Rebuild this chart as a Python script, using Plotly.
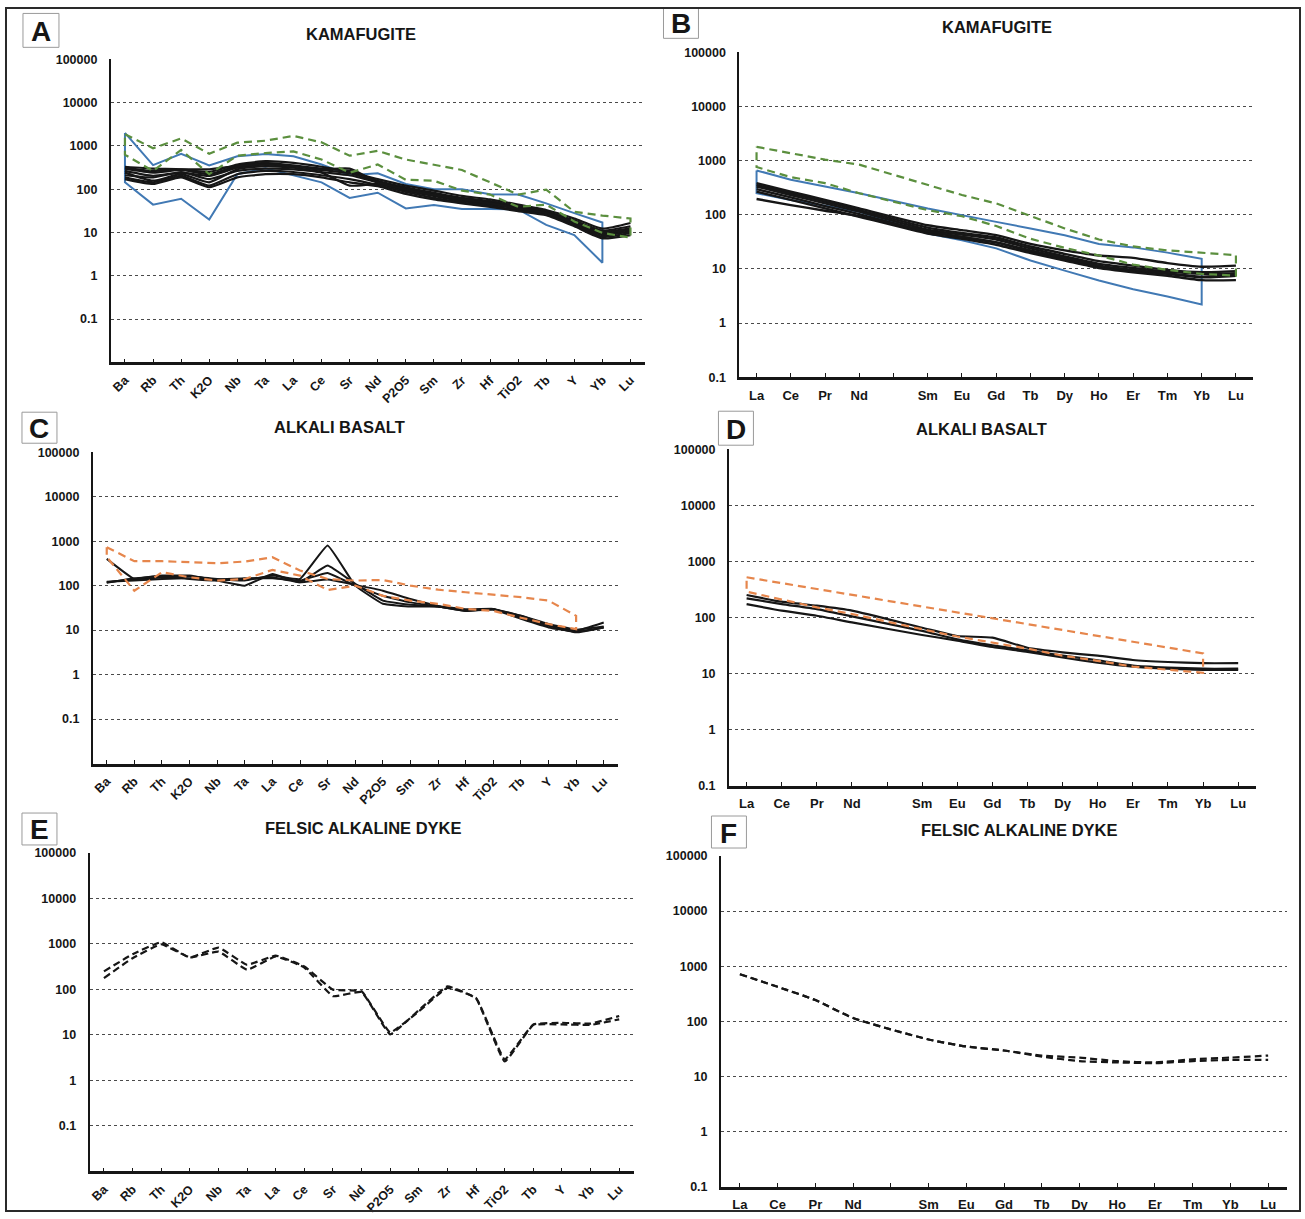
import plotly.graph_objects as go

FIG_W, FIG_H = 1305, 1219

# ---------------------------------------------------------------------------
# Element axes
# ---------------------------------------------------------------------------
SPIDER_AXIS = ["Ba", "Rb", "Th", "K2O", "Nb", "Ta", "La", "Ce", "Sr", "Nd",
               "P2O5", "Sm", "Zr", "Hf", "TiO2", "Tb", "Y", "Yb", "Lu"]
# REE axis: the Pm slot keeps its place but carries no label and no data
REE_AXIS = ["La", "Ce", "Pr", "Nd", "", "Sm", "Eu", "Gd", "Tb", "Dy",
            "Ho", "Er", "Tm", "Yb", "Lu"]
REE = [e for e in REE_AXIS if e]

Y_TICKS = [0.1, 1, 10, 100, 1000, 10000, 100000]
Y_TICK_TEXT = ["0.1", "1", "10", "100", "1000", "10000", "100000"]

# ---------------------------------------------------------------------------
# A - kamafugite, multi-element pattern (Ba ... Lu)
# ---------------------------------------------------------------------------
KAM_SPIDER_SAMPLES = [
    [330, 298, 288, 250, 373, 444, 407, 330, 250, 171, 121, 93, 70, 58, 44, 33, 21, 12.3, 16.5],
    [298, 242, 278, 222, 342, 407, 354, 298, 264, 157, 111, 83, 63, 53, 41, 31, 19, 11.1, 13.9],
    [264, 203, 242, 203, 313, 373, 342, 278, 234, 149, 105, 78, 61, 49, 39, 30, 17.4, 10.4, 12.7],
    [242, 157, 222, 144, 288, 342, 313, 250, 210, 144, 98, 72, 55, 47, 37, 29, 16.5, 9.3, 11.7],
    [210, 187, 250, 171, 264, 298, 288, 242, 121, 132, 93, 70, 53, 44, 36, 28, 15.7, 8.7, 10.7],
    [187, 144, 203, 121, 222, 264, 250, 210, 171, 125, 86, 63, 49, 41, 33, 27, 14.6, 7.9, 9.8],
    [171, 132, 187, 111, 187, 222, 222, 187, 144, 117, 78, 58, 47, 39, 31, 25, 13.9, 7.3, 8.7],
    [313, 264, 288, 288, 342, 373, 342, 288, 298, 144, 98, 74, 58, 47, 36, 28, 16.5, 9.8, 11.7],
]
# blue field, Ba ... Yb
KAM_SPIDER_BLUE_HIGH = [2000, 360, 660, 355, 575, 650, 575, 373, 210, 233, 132, 100, 100, 76, 75, 47, 28, 17]
KAM_SPIDER_BLUE_LOW = [144, 44, 60, 20, 222, 303, 210, 144, 63, 83, 36, 43, 35, 35, 34, 15, 8.7, 2.0]
# green field, Ba ... Lu
KAM_SPIDER_GREEN_HIGH = [1860, 885, 1490, 660, 1190, 1320, 1710, 1210, 595, 770, 484, 373, 278, 144, 75, 98, 30, 24.6, 21]
KAM_SPIDER_GREEN_LOW = [627, 264, 810, 222, 595, 683, 745, 484, 241, 373, 165, 157, 93, 75, 39, 44, 18, 9.8, 7.6]

# ---------------------------------------------------------------------------
# B - kamafugite, REE pattern (La ... Lu)
# ---------------------------------------------------------------------------
KAM_REE_SAMPLES = [
    [384, 268, 188, 131, 64, 52, 42, 29, 22, 17.7, 16, 12.8, 11, 11.5],
    [357, 250, 175, 122, 58, 46, 38, 26, 19, 13.9, 11.5, 9.6, 8.7, 9.1],
    [333, 232, 163, 114, 53, 43, 35, 24, 17, 12.4, 10.4, 8.9, 8.1, 8.3],
    [297, 210, 145, 103, 48, 39, 31, 21, 15.3, 11, 9.3, 8.1, 7.0, 7.5],
    [268, 188, 131, 92, 45, 36, 28, 19.6, 14.3, 10.4, 8.7, 7.5, 6.2, 6.2],
    [196, 151, 119, 94, 50, 39, 31, 22, 16, 11.5, 9.6, 8.3, 7.2, 7.8],
]
# blue field, La ... Yb
KAM_REE_BLUE_HIGH = [660, 443, 333, 250, 131, 100, 74, 56, 42, 29, 25, 20, 15.4]
KAM_REE_BLUE_LOW = [250, 188, 147, 114, 45, 34, 24, 14.3, 9.3, 6.1, 4.2, 3.1, 2.2]
# green field, La ... Lu
KAM_REE_GREEN_HIGH = [1800, 1390, 1045, 842, 357, 232, 162, 95, 56, 35, 26, 22, 20, 18]
KAM_REE_GREEN_LOW = [762, 496, 384, 250, 122, 94, 62, 36, 24.5, 17.7, 12, 9.6, 8.1, 7.5]

# ---------------------------------------------------------------------------
# C - alkali basalt, multi-element pattern
# ---------------------------------------------------------------------------
AB_SPIDER_SAMPLES = [
    [400, 141, 154, 163, 141, 130, 168, 141, 798, 100, 39, 34, 34, 27, 30, 21, 13, 9.7, 14.8],
    [119, 141, 168, 168, 130, 100, 183, 119, 283, 109, 46, 37, 34, 27, 29, 18, 11.5, 9.2, 11.5],
    [123, 130, 141, 146, 137, 146, 146, 130, 193, 100, 59, 42, 34, 29, 30, 19, 12.5, 8.9, 11.5],
    [116, 146, 163, 141, 130, 141, 154, 119, 137, 104, 77, 50, 35, 29, 29, 21, 13.7, 10.2, 12],
]
# orange field, Ba ... Yb
AB_SPIDER_ORANGE_HIGH = [733, 354, 354, 336, 319, 348, 435, 218, 141, 130, 134, 100, 81, 71, 62, 55, 46, 21]
AB_SPIDER_ORANGE_LOW = [440, 77, 200, 154, 130, 141, 226, 168, 80, 100, 59, 46, 39, 30, 27, 19, 13.7, 10.5]

# ---------------------------------------------------------------------------
# D - alkali basalt, REE pattern
# ---------------------------------------------------------------------------
AB_REE_SAMPLES = [
    [253, 192, 163, 133, 66, 47, 44, 29, 24, 21, 17.6, 16.2, 15.4, 15.4],
    [220, 174, 142, 105, 58, 41, 32, 26, 21, 17.4, 14, 12.9, 12.3, 12.3],
    [174, 133, 108, 82, 49, 39, 30, 24.5, 19.5, 15.8, 13.4, 12.3, 11.7, 11.7],
]
# orange field, La ... Yb
AB_REE_ORANGE_HIGH = [523, 412, 324, 254, 157, 124, 97, 77, 60, 47, 37, 29, 23]
AB_REE_ORANGE_LOW = [290, 209, 152, 116, 62, 46, 36, 28, 21, 17, 13.4, 11.7, 10.4]

# ---------------------------------------------------------------------------
# E / F - felsic alkaline dyke
# ---------------------------------------------------------------------------
DYKE_SPIDER_SAMPLES = [
    [249, 595, 1090, 503, 832, 348, 556, 320, 99, 91, 11.3, 33, 108, 65, 2.9, 17, 18.5, 17.7, 26],
    [178, 486, 985, 503, 680, 271, 529, 304, 71, 88, 10.3, 35, 117, 63, 2.6, 16.6, 17, 16.6, 22],
]
DYKE_REE_SAMPLES = [
    [717, 423, 243, 115, 47, 35, 29.6, 23, 19, 18, 17.5, 19, 20, 20],
    [717, 423, 243, 115, 47, 35, 29.6, 24, 22, 19, 18, 20.5, 22, 24],
]

PANEL_TITLES = ["KAMAFUGITE", "KAMAFUGITE", "ALKALI BASALT", "ALKALI BASALT",
                "FELSIC ALKALINE DYKE", "FELSIC ALKALINE DYKE"]
PANEL_LETTERS = ["A", "B", "C", "D", "E", "F"]

# ---------------------------------------------------------------------------
# Styling / layout
# ---------------------------------------------------------------------------
FONT = "Liberation Sans, Arial, Helvetica, sans-serif"
BLACK = "#161616"
BLUE = "#4179b4"
GREEN = "#5b8f3e"
ORANGE = "#e6864c"

# plot boxes in figure pixels: (left, right), (top, bottom)
PANEL_BOXES = {
    1: dict(x=(110, 644), y=(53.0, 359.4), ylog=(-2, 5), cats=SPIDER_AXIS, angle=-45),
    2: dict(x=(739, 1253), y=(45.9, 374.5), ylog=(-1, 5), cats=REE_AXIS, angle=0),
    3: dict(x=(92, 617), y=(450.4, 765.3), ylog=(-2, 5), cats=SPIDER_AXIS, angle=-45),
    4: dict(x=(728.6, 1255.7), y=(447.3, 788.1), ylog=(-1, 5), cats=REE_AXIS, angle=0),
    5: dict(x=(88.7, 633), y=(855.8, 1177.9), ylog=(-2, 5), cats=SPIDER_AXIS, angle=-45),
    6: dict(x=(720.6, 1287), y=(858.8, 1193.5), ylog=(-1, 5), cats=REE_AXIS, angle=0),
}
TITLE_POS = [(360, 27.7), (997, 20.6), (339, 425.1), (981, 427.1), (362, 830.5), (1019, 832.6)]
LETTER_BOX = [(22, 6.5, 58, 40.8), (663, 0.6, 698, 31.7), (21, 409.9, 56, 441.3),
              (718, 408.9, 753, 443.3), (21, 815.4, 56, 847.7), (711, 818.4, 746, 850.8)]
FRAME = (5, 1, 1300, 1218)


def fx(px):
    return px / FIG_W


def fy(py):
    return 1 - py / FIG_H


def axis_ids(n):
    return ("x", "y") if n == 1 else (f"x{n}", f"y{n}")


def slots(cats, elements):
    return [cats.index(e) for e in elements]


def sample_line(n, cats, elements, values, color, width, dash="solid", smooth=0.0):
    xa, ya = axis_ids(n)
    return go.Scatter(
        x=slots(cats, elements), y=values, mode="lines", xaxis=xa, yaxis=ya,
        line=dict(color=color, width=width, dash=dash,
                  shape="spline" if smooth else "linear", smoothing=smooth or None),
        showlegend=False, hoverinfo="skip")


def envelope(n, cats, elements, high, low, color, width, dash="solid"):
    xa, ya = axis_ids(n)
    x = slots(cats, elements)
    xs = x + x[::-1] + [x[0]]
    ys = list(high) + list(low)[::-1] + [high[0]]
    return go.Scatter(x=xs, y=ys, mode="lines", xaxis=xa, yaxis=ya,
                      line=dict(color=color, width=width, dash=dash),
                      showlegend=False, hoverinfo="skip")


fig = go.Figure()

SP18 = SPIDER_AXIS[:18]
REE13 = REE[:13]
DASH = "8px,5px"

# A
fig.add_trace(envelope(1, SPIDER_AXIS, SP18, KAM_SPIDER_BLUE_HIGH, KAM_SPIDER_BLUE_LOW, BLUE, 2))
for s in KAM_SPIDER_SAMPLES:
    fig.add_trace(sample_line(1, SPIDER_AXIS, SPIDER_AXIS, s, BLACK, 2.2, smooth=0.5))
fig.add_trace(envelope(1, SPIDER_AXIS, SPIDER_AXIS, KAM_SPIDER_GREEN_HIGH, KAM_SPIDER_GREEN_LOW, GREEN, 2.2, DASH))

# B
fig.add_trace(envelope(2, REE_AXIS, REE13, KAM_REE_BLUE_HIGH, KAM_REE_BLUE_LOW, BLUE, 2))
for s in KAM_REE_SAMPLES:
    fig.add_trace(sample_line(2, REE_AXIS, REE, s, BLACK, 2.4, smooth=0.5))
fig.add_trace(envelope(2, REE_AXIS, REE, KAM_REE_GREEN_HIGH, KAM_REE_GREEN_LOW, GREEN, 2.2, DASH))

# C
for s in AB_SPIDER_SAMPLES:
    fig.add_trace(sample_line(3, SPIDER_AXIS, SPIDER_AXIS, s, BLACK, 2.0, smooth=0.3))
fig.add_trace(envelope(3, SPIDER_AXIS, SP18, AB_SPIDER_ORANGE_HIGH, AB_SPIDER_ORANGE_LOW, ORANGE, 2.2, DASH))

# D
for s in AB_REE_SAMPLES:
    fig.add_trace(sample_line(4, REE_AXIS, REE, s, BLACK, 2.2, smooth=0.5))
fig.add_trace(envelope(4, REE_AXIS, REE13, AB_REE_ORANGE_HIGH, AB_REE_ORANGE_LOW, ORANGE, 2.2, DASH))

# E
for s in DYKE_SPIDER_SAMPLES:
    fig.add_trace(sample_line(5, SPIDER_AXIS, SPIDER_AXIS, s, BLACK, 2.2, "7px,4px", smooth=0.3))

# F
for s in DYKE_REE_SAMPLES:
    fig.add_trace(sample_line(6, REE_AXIS, REE, s, BLACK, 2.2, "7px,4px", smooth=0.6))

# axes
layout_axes = {}
for n, box in PANEL_BOXES.items():
    xk = "xaxis" if n == 1 else f"xaxis{n}"
    yk = "yaxis" if n == 1 else f"yaxis{n}"
    xa, ya = axis_ids(n)
    cats = box["cats"]
    layout_axes[xk] = dict(
        domain=[fx(box["x"][0]), fx(box["x"][1])], anchor=ya,
        range=[-0.5, len(cats) - 0.5], tickmode="array",
        tickvals=list(range(len(cats))), ticktext=cats,
        tickangle=box["angle"], ticks="inside", ticklen=4, tickwidth=1.2,
        tickcolor=BLACK, showline=True, linecolor=BLACK, linewidth=2.5,
        showgrid=False, zeroline=False, ticklabelstandoff=3 if box["angle"] else 4,
        tickfont=dict(family=FONT, size=13 if box["angle"] == 0 else 12.5,
                      color=BLACK, weight="bold"),
    )
    layout_axes[yk] = dict(
        domain=[fy(box["y"][1]), fy(box["y"][0])], anchor=xa,
        type="log", range=list(box["ylog"]), tickmode="array",
        tickvals=Y_TICKS, ticktext=Y_TICK_TEXT, ticks="",
        showline=True, linecolor=BLACK, linewidth=2,
        showgrid=True, gridcolor="#4a4a4a", gridwidth=1, griddash="dot",
        zeroline=False, ticklabelstandoff=9,
        tickfont=dict(family=FONT, size=12.5, color=BLACK, weight="bold"),
    )

annotations = []
shapes = []
for title, (tx, ty) in zip(PANEL_TITLES, TITLE_POS):
    annotations.append(dict(
        text=title, x=fx(tx), y=fy(ty), xref="paper", yref="paper",
        xanchor="center", yanchor="middle", showarrow=False,
        font=dict(family=FONT, size=16.5, color=BLACK, weight="bold")))
for letter, (x0, y0, x1, y1) in zip(PANEL_LETTERS, LETTER_BOX):
    shapes.append(dict(type="rect", xref="paper", yref="paper",
                       x0=fx(x0), x1=fx(x1), y0=fy(y1), y1=fy(y0),
                       line=dict(color="#9a9a9a", width=1), fillcolor="white"))
    annotations.append(dict(
        text=letter, x=fx((x0 + x1) / 2), y=fy((y0 + y1) / 2 + 1), xref="paper", yref="paper",
        xanchor="center", yanchor="middle", showarrow=False,
        font=dict(family=FONT, size=28, color=BLACK, weight="bold")))

# frame around the whole figure
shapes.append(dict(type="rect", xref="paper", yref="paper",
                   x0=fx(FRAME[0]), x1=fx(FRAME[2]), y0=fy(FRAME[3]), y1=fy(FRAME[1]),
                   line=dict(color="#2a2a2a", width=2)))

fig.update_layout(
    width=FIG_W, height=FIG_H, autosize=False,
    margin=dict(l=0, r=0, t=0, b=0),
    paper_bgcolor="white", plot_bgcolor="white",
    showlegend=False, annotations=annotations, shapes=shapes,
    **layout_axes,
)

fig.write_html("out.html")
